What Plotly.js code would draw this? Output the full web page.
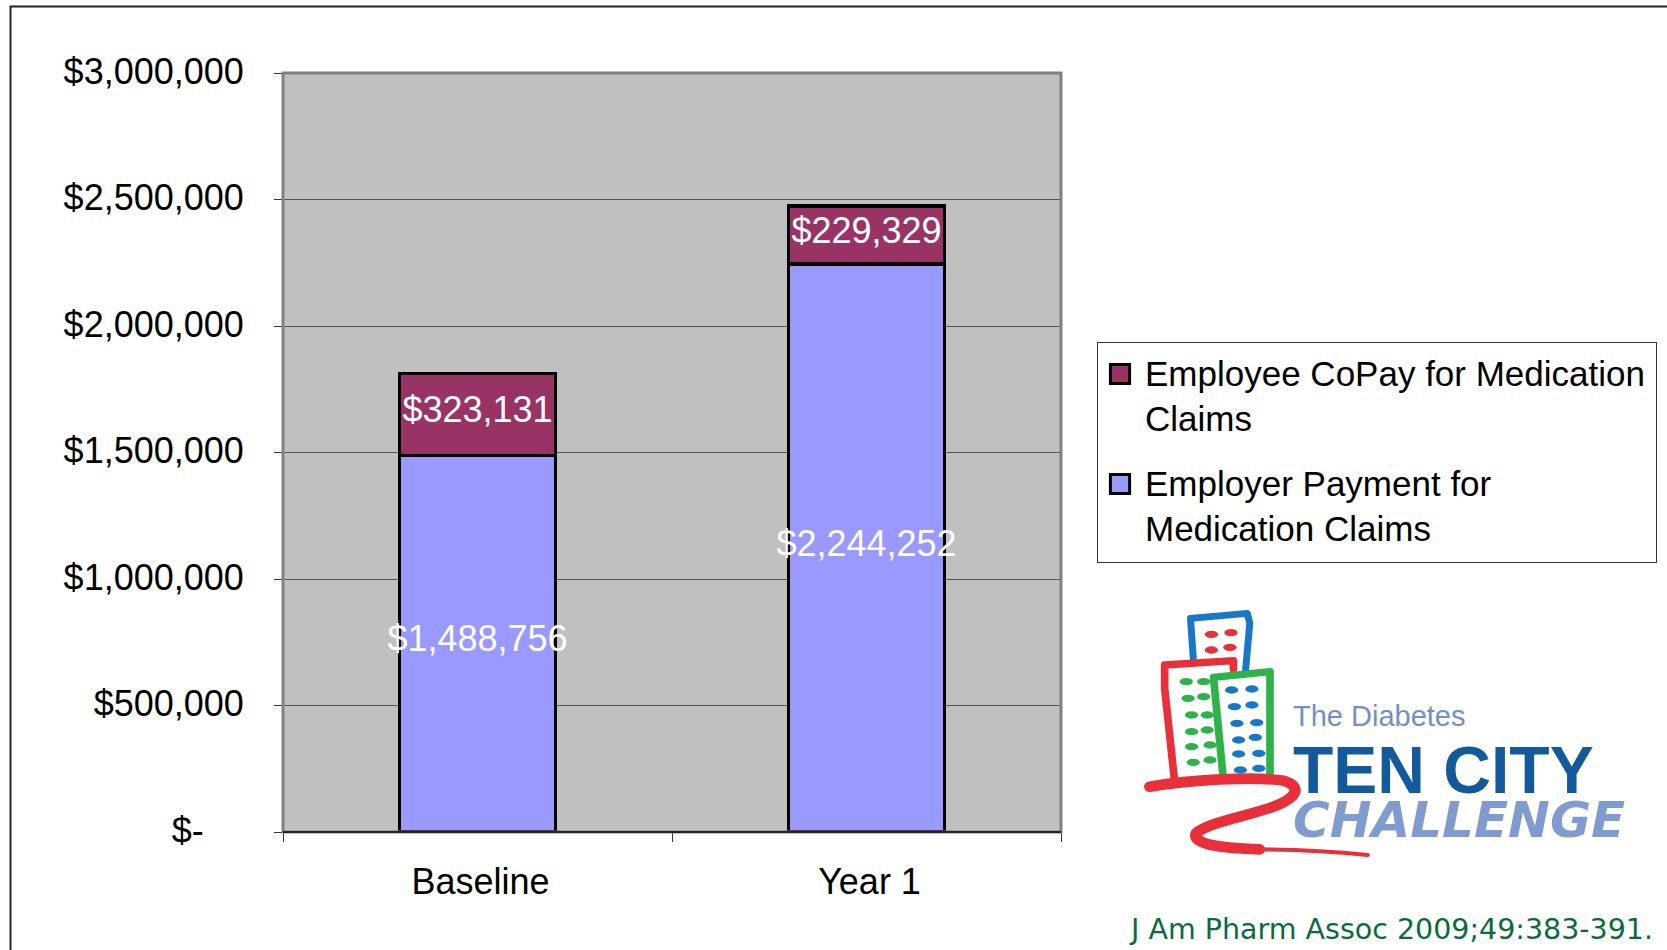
<!DOCTYPE html>
<html>
<head>
<meta charset="utf-8">
<script src="https://cdn.plot.ly/plotly-3.0.1.min.js"></script>
<style>html,body{margin:0;padding:0;background:#fff;overflow:hidden}#chart{width:1667px;height:950px}</style>
</head>
<body>
<div id="chart"></div>
<script>
const categories = ["Baseline", "Year 1"];
const employerPayment = [1488756, 2244252];
const employeeCopay = [323131, 229329];
const employerName = "Employer Payment for<br>Medication Claims";
const copayName = "Employee CoPay for Medication<br>Claims";
const yTickVals = [0, 500000, 1000000, 1500000, 2000000, 2500000, 3000000];
const yTickText = ["$-\u00A0\u00A0\u00A0\u00A0", "$500,000", "$1,000,000", "$1,500,000", "$2,000,000", "$2,500,000", "$3,000,000"];
const money = v => "$" + v.toLocaleString("en-US");

const L = 283, T = 73, R = 1061, B = 832;
const px = x => (x - L) / (R - L);
const py = y => (B - y) / (B - T);

const redWin = [[262,133],[318,128],[262,180],[315,172]];
const greenWin = [[190,275],[240,275],[195,325],[240,320],[205,375],[250,375],[205,425],[250,420],[205,470],[258,465],[210,517],[258,510]];
const blueWin = [[320,300],[378,297],[328,350],[378,345],[335,400],[392,398],[340,450],[388,442],[340,492],[398,490],[345,540],[398,535]];
const win = (a, c) => a.map(p => `<ellipse cx="${p[0]}" cy="${p[1]}" rx="19" ry="11" fill="${c}"/>`).join("");
const art = `<svg xmlns="http://www.w3.org/2000/svg" width="1568" height="1080" viewBox="0 0 1568 1080" preserveAspectRatio="none">
<g fill="none" stroke-linejoin="round" stroke-linecap="round">
<path d="M210,205 L202,85 L365,70 L372,100 L360,240" stroke="#1878c8" stroke-width="20"/>
<path d="M155,560 L128,295 L128,225 L325,212 L325,238" stroke="#e8303a" stroke-width="22"/>
<path d="M295,555 L268,262 L430,245 L430,550" stroke="#2db34a" stroke-width="22"/>
<path d="M85,590 C200,570 380,558 470,572 C522,590 510,622 440,650 C360,680 250,698 218,730 C205,765 300,775 400,778" stroke="#e8303a" stroke-width="32"/>
<path d="M400,778 C500,778 620,785 710,795" stroke="#e8303a" stroke-width="12"/>
</g>${win(redWin, "#e8303a")}${win(greenWin, "#2db34a")}${win(blueWin, "#1878c8")}</svg>`;

const sans = "Liberation Sans, Arial, sans-serif";
const barText = {family: sans, size: 36, color: "#ffffff"};

const traces = [
  {type: "bar", name: employerName, x: categories, y: employerPayment, legendgroup: "a", legendrank: 2,
   text: employerPayment.map(money), textposition: "inside", insidetextanchor: "middle",
   constraintext: "none", textangle: 0, cliponaxis: false, insidetextfont: barText,
   marker: {color: "#9999FF", line: {color: "#000", width: 3.5}}, hoverinfo: "name+y"},
  {type: "bar", name: copayName, x: categories, y: employeeCopay, legendgroup: "b", legendrank: 1,
   text: employeeCopay.map(money), textposition: "inside", insidetextanchor: "middle",
   constraintext: "none", textangle: 0, cliponaxis: false, insidetextfont: barText,
   marker: {color: "#993366", line: {color: "#000", width: 3.5}}, hoverinfo: "name+y"}
];

const note = (text, x, y, size, color, family) => ({
  text, x: px(x), y: py(y), xref: "paper", yref: "paper", xanchor: "left", yanchor: "middle",
  showarrow: false, font: {family, size, color}
});

const layout = {
  width: 1667, height: 950, autosize: false,
  margin: {l: L, t: T, r: 1667 - R, b: 950 - B, pad: 0},
  paper_bgcolor: "#fff", plot_bgcolor: "#C0C0C0",
  barmode: "stack", bargap: 0.6,
  font: {family: sans, color: "#000"},
  showlegend: true,
  legend: {x: px(1097), xanchor: "left", y: py(342), yanchor: "top",
    bgcolor: "#fff", bordercolor: "#333", borderwidth: 1,
    font: {family: sans, size: 35, color: "#000"},
    itemwidth: 37, tracegroupgap: 16, traceorder: "grouped"},
  xaxis: {type: "category", tickson: "boundaries", ticks: "outside", ticklen: 9, tickcolor: "#333", tickwidth: 1,
    showline: false, zeroline: false, showgrid: false,
    tickfont: {family: sans, size: 36, color: "#000"}, ticklabelstandoff: 25, ticklabelshift: 3},
  yaxis: {range: [0, 3000000], tickmode: "array", tickvals: yTickVals, ticktext: yTickText,
    ticks: "outside", ticklen: 8, tickcolor: "#333", tickwidth: 1,
    showgrid: true, gridcolor: "#555", gridwidth: 1, zeroline: false, showline: false,
    tickfont: {family: sans, size: 36, color: "#000"}, ticklabelstandoff: 23, ticklabelshift: -2},
  shapes: [
    {type: "rect", xref: "paper", yref: "paper", x0: 0, x1: 1, y0: 0, y1: 1, layer: "above", line: {color: "#808080", width: 3}},
    {type: "line", xref: "paper", yref: "paper", x0: 0, x1: 1, y0: 0, y1: 0, layer: "above", line: {color: "#222", width: 2}},
    {type: "path", xref: "paper", yref: "paper",
     path: `M ${px(10.5)} ${py(950)} L ${px(10.5)} ${py(6.5)} L ${px(1667)} ${py(6.5)}`,
     line: {color: "#222", width: 2}}
  ],
  images: [{source: "data:image/svg+xml;charset=utf-8," + encodeURIComponent(art),
    xref: "paper", yref: "paper", x: px(1120), y: py(590), sizex: 547 / (R - L), sizey: 360 / (B - T),
    xanchor: "left", yanchor: "top", sizing: "stretch", layer: "above"}],
  annotations: [
    note("The Diabetes", 1291, 716, 29, "#7290c6", sans),
    note("<b>TEN CITY</b>", 1291, 770, 66, "#135a9c", sans),
    note("<b><i>CHALLENGE</i></b>", 1291, 820, 50, "#7f9bcf", "DejaVu Sans, sans-serif"),
    note("J Am Pharm Assoc 2009;49:383-391.", 1127, 929, 28.5, "#0b6b3a", "DejaVu Sans, sans-serif")
  ]
};

Plotly.newPlot("chart", traces, layout, {displayModeBar: false, responsive: false}).then(gd => {
  gd.querySelectorAll(".legend .legendpoints path").forEach(p => {
    p.setAttribute("transform", "translate(22,-21) scale(1.6)");
    p.style.vectorEffect = "non-scaling-stroke";
    p.style.strokeWidth = "3px";
    p.style.stroke = "#000";
  });
  const bg = gd.querySelector(".legend rect.bg");
  if (bg) { bg.setAttribute("height", "220"); bg.setAttribute("width", "559"); }
  gd.querySelectorAll(".bars .bartext").forEach(t => {
    const old = t.getAttribute("transform") || "";
    t.setAttribute("transform", "translate(0,-5) " + old);
  });
});
</script>
</body>
</html>
